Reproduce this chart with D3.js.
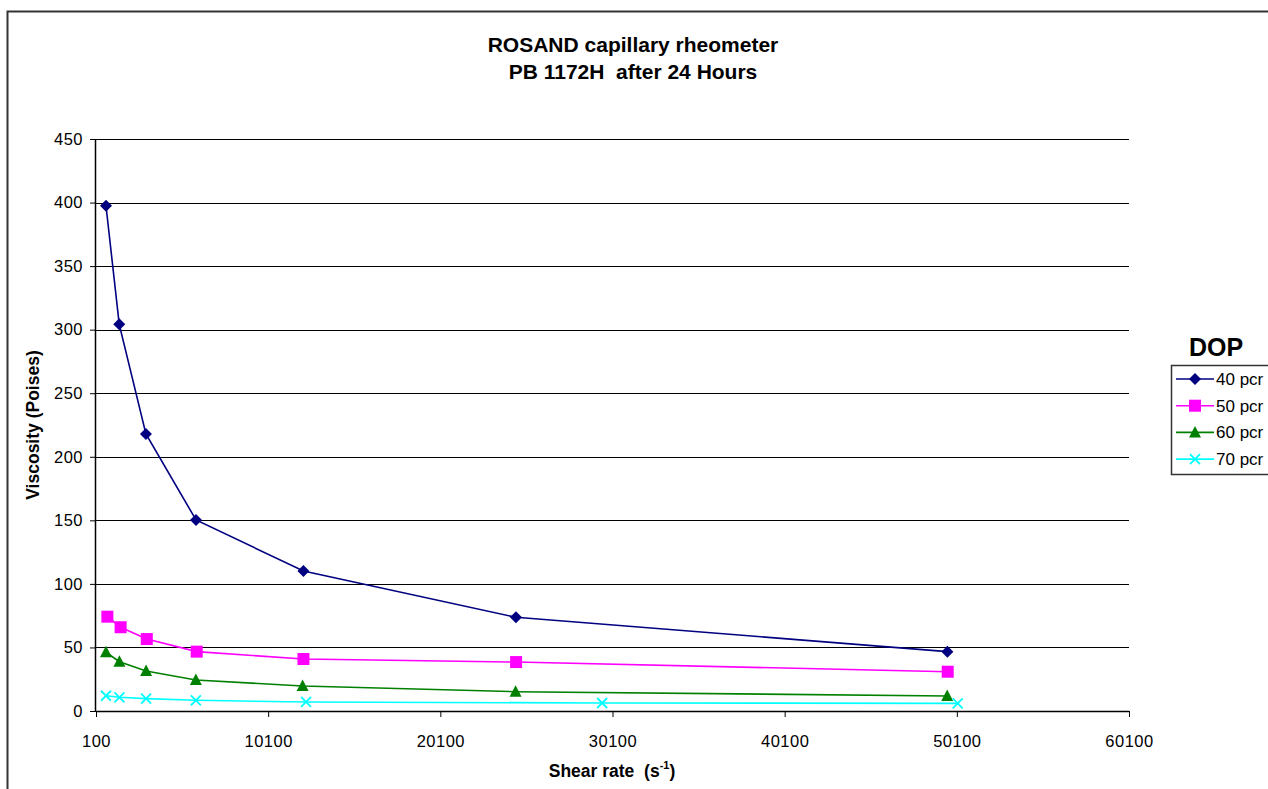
<!DOCTYPE html>
<html>
<head>
<meta charset="utf-8">
<script src="https://cdn.jsdelivr.net/npm/d3@7"></script>
<style>
  body { margin: 0; background: #fff; }
  svg { font-family: Arial, "Liberation Sans", sans-serif; }
</style>
</head>
<body>
<div id="chart"></div>
<script>
// data
const seriesNames = ["40 pcr", "50 pcr", "60 pcr", "70 pcr"];
const rate40 = [680, 1450, 3000, 5910, 12150, 24490, 49550];
const visc40 = [397.5, 304.2, 217.9, 150.3, 110.1, 73.7, 46.7];
const rate50 = [760, 1530, 3050, 5950, 12150, 24500, 49570];
const visc50 = [74.2, 65.9, 56.6, 46.7, 40.9, 38.5, 30.9];
const rate60 = [680, 1460, 3010, 5900, 12100, 24470, 49540];
const visc60 = [46.2, 38.8, 31.5, 24.4, 19.7, 15.2, 11.8];
const rate70 = [680, 1460, 3010, 5900, 12300, 29500, 50150];
const visc70 = [12.0, 10.8, 9.7, 8.4, 7.1, 6.3, 6.0];
const xTicks = [100, 10100, 20100, 30100, 40100, 50100, 60100];
const yTicks = [0, 50, 100, 150, 200, 250, 300, 350, 400, 450];

const W = 1268, H = 789;
const margin = {top: 139, left: 96, right: W - 1129, bottom: H - 711};
const width = W - margin.left - margin.right,
      height = H - margin.top - margin.bottom;

const svg = d3.select("#chart").append("svg")
    .attr("width", W)
    .attr("height", H);

// outer chart frame (runs off the right and bottom)
svg.append("path")
    .attr("d", `M7.5,${H + 5} V11.5 H${W + 5}`)
    .attr("fill", "none")
    .attr("stroke", "#333")
    .attr("stroke-width", 2);

const g = svg.append("g")
    .attr("transform", `translate(${margin.left},${margin.top})`);

const x = d3.scaleLinear().domain([100, 60100]).range([0, width]);
const y = d3.scaleLinear().domain([0, 450]).range([height, 0]);

// horizontal grid lines
g.selectAll("line.grid")
  .data(yTicks.slice(1))
  .join("line")
    .attr("class", "grid")
    .attr("x1", 0).attr("x2", width)
    .attr("y1", d => Math.round(y(d)) + 0.5)
    .attr("y2", d => Math.round(y(d)) + 0.5)
    .attr("stroke", "#000")
    .attr("stroke-width", 1);

// axes
const xAxis = g.append("g")
    .attr("transform", `translate(0,${height})`)
    .call(d3.axisBottom(x).tickValues(xTicks).tickSize(6).tickPadding(18).tickFormat(d3.format("d")));
const yAxis = g.append("g")
    .call(d3.axisLeft(y).tickValues(yTicks).tickSize(6).tickPadding(7));

[xAxis, yAxis].forEach(a => {
  a.select(".domain").attr("stroke", "#000").attr("stroke-width", 1.5);
  a.selectAll(".tick line").attr("stroke", "#000");
  a.selectAll(".tick text").attr("font-size", 16.5).attr("fill", "#000")
    .attr("letter-spacing", 0.5)
    .attr("font-family", "Arial, 'Liberation Sans', sans-serif");
});
xAxis.select(".domain").attr("d", `M0,0.5H${width}`);
yAxis.select(".domain").attr("d", `M-0.5,0V${height}`);

// series
const series = [
  {name: seriesNames[0], xs: rate40, ys: visc40, color: "#000080", sym: "diamond"},
  {name: seriesNames[1], xs: rate50, ys: visc50, color: "#FF00FF", sym: "square"},
  {name: seriesNames[2], xs: rate60, ys: visc60, color: "#008000", sym: "triangle"},
  {name: seriesNames[3], xs: rate70, ys: visc70, color: "#00FFFF", sym: "cross"}
];

function drawMarker(sel, s) {
  if (s.sym === "diamond") {
    sel.append("path").attr("d", "M0,-6L6,0L0,6L-6,0Z").attr("fill", s.color);
  } else if (s.sym === "square") {
    sel.append("rect").attr("x", -6).attr("y", -6).attr("width", 12).attr("height", 12).attr("fill", s.color);
  } else if (s.sym === "triangle") {
    sel.append("path").attr("d", "M0,-6.5L6,5L-6,5Z").attr("fill", s.color);
  } else {
    sel.append("path").attr("d", "M-5,-5L5,5M5,-5L-5,5")
      .attr("stroke", s.color).attr("stroke-width", 1.8).attr("fill", "none");
  }
}

const line = d3.line().x(d => x(d[0])).y(d => y(d[1]));

series.forEach(s => {
  const pts = s.xs.map((v, i) => [v, s.ys[i]]);
  g.append("path")
    .datum(pts)
    .attr("d", line)
    .attr("fill", "none")
    .attr("stroke", s.color)
    .attr("stroke-width", 1.6);
  g.selectAll(null)
    .data(pts)
    .join("g")
      .attr("transform", d => `translate(${x(d[0])},${y(d[1])})`)
      .each(function() { drawMarker(d3.select(this), s); });
});

// titles
svg.append("text")
    .attr("x", 633).attr("y", 52)
    .attr("text-anchor", "middle")
    .attr("font-size", 21).attr("font-weight", "bold")
    .text("ROSAND capillary rheometer");
svg.append("text")
    .attr("x", 633).attr("y", 79)
    .attr("text-anchor", "middle")
    .attr("font-size", 21).attr("font-weight", "bold")
    .style("white-space", "pre")
    .text("PB 1172H  after 24 Hours");

svg.append("text")
    .attr("transform", `translate(39,${margin.top + height / 2}) rotate(-90)`)
    .attr("text-anchor", "middle")
    .attr("font-size", 17.5).attr("font-weight", "bold")
    .text("Viscosity (Poises)");

const xt = svg.append("text")
    .attr("x", 612).attr("y", 777)
    .attr("text-anchor", "middle")
    .attr("font-size", 17.5).attr("font-weight", "bold")
    .style("white-space", "pre");
xt.append("tspan").text("Shear rate  (s");
xt.append("tspan").attr("font-size", 11).attr("dy", -8).text("-1");
xt.append("tspan").attr("dy", 8).text(")");

// legend
svg.append("text")
    .attr("x", 1216).attr("y", 356)
    .attr("text-anchor", "middle")
    .attr("font-size", 25).attr("font-weight", "bold")
    .text("DOP");

svg.append("rect")
    .attr("x", 1171.5).attr("y", 365.5)
    .attr("width", 120).attr("height", 109)
    .attr("fill", "#fff")
    .attr("stroke", "#333").attr("stroke-width", 1.5);

const leg = svg.selectAll("g.leg")
  .data(series)
  .join("g")
    .attr("class", "leg")
    .attr("transform", (d, i) => `translate(1176,${379 + i * 26.7})`);
leg.append("line")
    .attr("x1", 0).attr("x2", 38)
    .attr("stroke", d => d.color).attr("stroke-width", 1.6);
leg.append("g")
    .attr("transform", "translate(19,0)")
    .each(function(d) { drawMarker(d3.select(this), d); });
leg.append("text")
    .attr("x", 40).attr("y", 6)
    .attr("font-size", 17)
    .text(d => d.name);
</script>
</body>
</html>
